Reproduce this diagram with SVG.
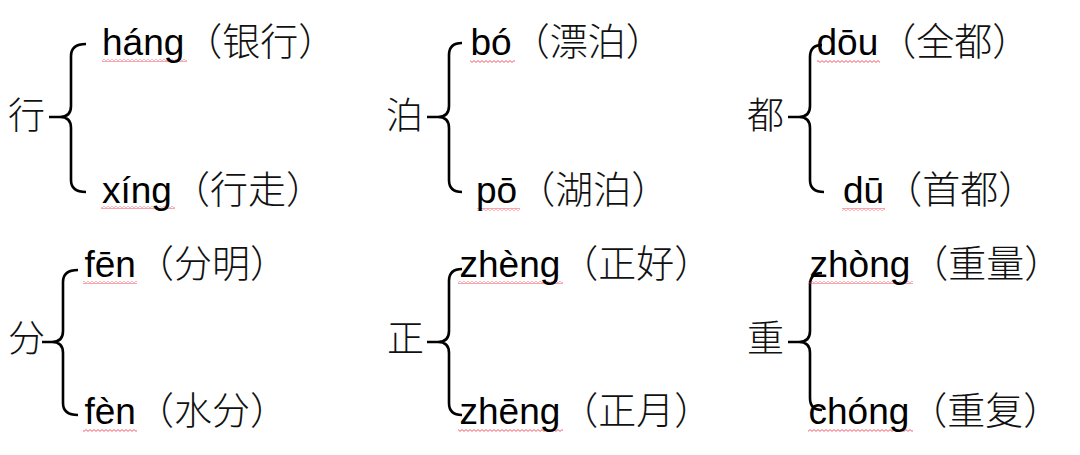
<svg xmlns="http://www.w3.org/2000/svg" width="1080" height="455" viewBox="0 0 1080 455">
  <style>
    .head { font-family: "Noto Sans CJK SC", sans-serif; font-size: 37px; font-weight: 300; fill: #111; }
    .py { font-family: "Liberation Sans", Arial, "Noto Sans CJK SC", sans-serif; font-size: 37px; fill: #000; }
    .zh { font-family: "Noto Sans CJK SC", sans-serif; font-size: 38px; font-weight: 300; fill: #111; }
    .brace { fill: none; stroke: #000; stroke-width: 2.6; stroke-linecap: butt; stroke-linejoin: round; }
    .wave { fill: url(#wave); }
  </style>
  <defs>
    <pattern id="wave" x="0" y="0" width="4" height="3" patternUnits="userSpaceOnUse">
      <path d="M0,2.4 L2,0.6 L4,2.4" fill="none" stroke="#ee3344" stroke-width="0.8"/>
    </pattern>
  </defs>
  <rect width="1080" height="455" fill="#fff"/>

  <g id="connectors">
    <path class="brace" d="M86,44 Q71,44 71,56 V106 Q71,117 60,117 H49 M60,117 Q71,117 71,128 V180 Q71,192 86,192"/>
    <path class="brace" d="M462,43 Q449,43 449,55 V106 Q449,117 438,117 H427 M438,117 Q449,117 449,128 V180 Q449,192 462,192"/>
    <path class="brace" d="M822,45 Q810,45 810,57 V106 Q810,117 799,117 H788 M799,117 Q810,117 810,128 V180 Q810,192 824,192"/>
    <path class="brace" d="M78,270 Q63,270 63,282 V331 Q63,342 52,342 H42 M52,342 Q63,342 63,353 V403 Q63,415 78,415"/>
    <path class="brace" d="M462,269 Q449,269 449,281 V331 Q449,342 438,342 H427 M438,342 Q449,342 449,353 V403 Q449,415 462,415"/>
    <path class="brace" d="M822,273 Q810,273 810,285 V331 Q810,342 799,342 H788 M799,342 Q810,342 810,353 V398 Q810,410 822,410"/>
  </g>

  <g id="node-xing">
    <text class="head" x="8" y="129">行</text>
  </g>
  <g id="node-hang">
    <rect class="wave" x="102" y="59" width="85" height="3"/>
    <text y="55"><tspan class="py" x="102">háng</tspan><tspan class="zh">（银行）</tspan></text>
  </g>
  <g id="node-xing2">
    <rect class="wave" x="101" y="206" width="74" height="3"/>
    <text y="203"><tspan class="py" x="102">xíng</tspan><tspan class="zh">（行走）</tspan></text>
  </g>

  <g id="node-bo">
    <text class="head" x="386" y="129">泊</text>
  </g>
  <g id="node-bo2">
    <rect class="wave" x="470" y="60" width="45" height="3"/>
    <text y="55"><tspan class="py" x="470.5">bó</tspan><tspan class="zh">（漂泊）</tspan></text>
  </g>
  <g id="node-po">
    <rect class="wave" x="477" y="208" width="43" height="3"/>
    <text y="203"><tspan class="py" x="476">pō</tspan><tspan class="zh">（湖泊）</tspan></text>
  </g>

  <g id="node-du">
    <text class="head" x="747" y="129">都</text>
  </g>
  <g id="node-dou">
    <rect class="wave" x="817" y="60" width="63" height="3"/>
    <text y="55"><tspan class="py" x="816.5">dōu</tspan><tspan class="zh">（全都）</tspan></text>
  </g>
  <g id="node-du2">
    <rect class="wave" x="842" y="208" width="43" height="3"/>
    <text y="203"><tspan class="py" x="843">dū</tspan><tspan class="zh">（首都）</tspan></text>
  </g>

  <g id="node-fen">
    <text class="head" x="8" y="352">分</text>
  </g>
  <g id="node-fen1">
    <rect class="wave" x="83" y="281" width="54" height="3"/>
    <text y="276.5"><tspan class="py" x="84.5">fēn</tspan><tspan class="zh">（分明）</tspan></text>
  </g>
  <g id="node-fen4">
    <rect class="wave" x="83" y="429" width="54" height="3"/>
    <text y="424"><tspan class="py" x="84.5">fèn</tspan><tspan class="zh">（水分）</tspan></text>
  </g>

  <g id="node-zheng">
    <text class="head" x="387" y="352">正</text>
  </g>
  <g id="node-zheng4">
    <rect class="wave" x="458" y="281" width="105" height="3"/>
    <text y="276.5"><tspan class="py" x="459.5">zhèng</tspan><tspan class="zh">（正好）</tspan></text>
  </g>
  <g id="node-zheng1">
    <rect class="wave" x="458" y="429" width="105" height="3"/>
    <text y="424"><tspan class="py" x="459.5">zhēng</tspan><tspan class="zh">（正月）</tspan></text>
  </g>

  <g id="node-zhong">
    <text class="head" x="747" y="352">重</text>
  </g>
  <g id="node-zhong4">
    <rect class="wave" x="808" y="281" width="105" height="3"/>
    <text y="276.5"><tspan class="py" x="809.5">zhòng</tspan><tspan class="zh">（重量）</tspan></text>
  </g>
  <g id="node-chong">
    <rect class="wave" x="808" y="429" width="105" height="3"/>
    <text y="424"><tspan class="py" x="808.5">chóng</tspan><tspan class="zh">（重复）</tspan></text>
  </g>
</svg>
